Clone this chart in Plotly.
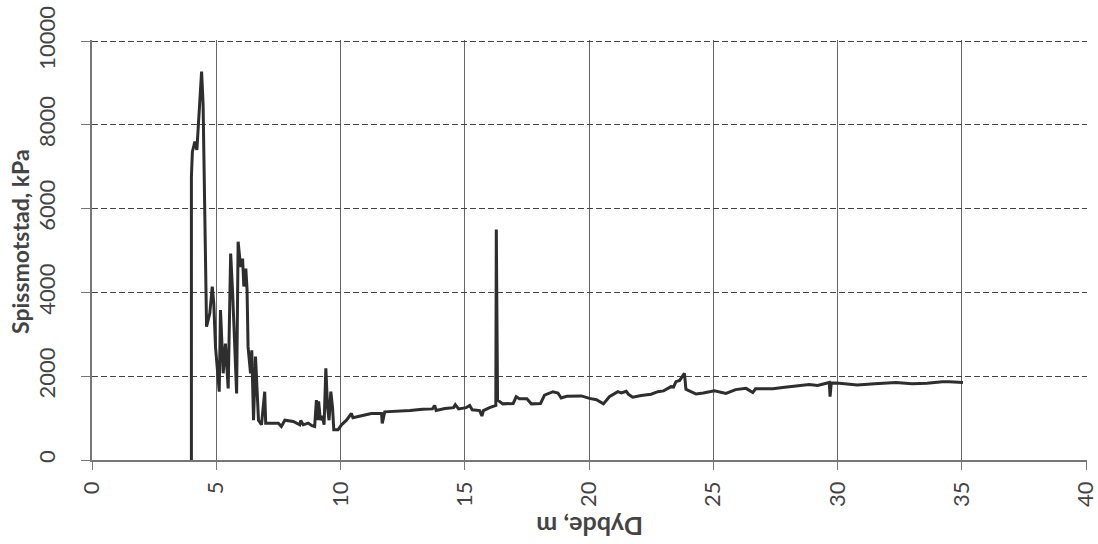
import plotly.graph_objects as go

depth = [4.00, 4.00, 4.04, 4.14, 4.22, 4.41, 4.47, 4.61, 4.74, 4.84, 4.90, 4.97, 5.12, 5.17, 5.28,
         5.37, 5.48, 5.58, 5.66, 5.72, 5.82, 5.88, 5.98, 6.06, 6.11, 6.19, 6.24, 6.28, 6.38, 6.43,
         6.50, 6.58, 6.70, 6.82, 6.95, 6.99, 7.14, 7.50, 7.62, 7.76, 8.10, 8.36, 8.40, 8.50, 8.70,
         8.85, 8.96, 9.03, 9.08, 9.12, 9.19, 9.27, 9.34, 9.41, 9.48, 9.54, 9.61, 9.68, 9.73, 9.90,
         10.04, 10.24, 10.44, 10.50, 10.80, 11.24, 11.65, 11.68, 11.78, 12.30, 12.80, 13.30, 13.70,
         13.79, 13.85, 14.20, 14.55, 14.62, 14.75, 15.06, 15.20, 15.30, 15.60, 15.69, 15.75, 16.00,
         16.20, 16.25, 16.27, 16.32, 16.53, 16.95, 17.07, 17.20, 17.50, 17.68, 18.05, 18.21, 18.55,
         18.75, 18.88, 19.10, 19.69, 20.02, 20.30, 20.58, 20.82, 21.00, 21.16, 21.30, 21.50, 21.60,
         21.76, 22.10, 22.50, 22.77, 23.00, 23.30, 23.40, 23.50, 23.65, 23.84, 23.90, 23.97, 24.31,
         24.60, 25.05, 25.51, 25.90, 26.32, 26.59, 26.70, 27.40, 27.79, 28.30, 28.86, 29.20, 29.50,
         29.67, 29.70, 29.75, 30.07, 30.80, 31.50, 32.35, 33.00, 33.60, 34.22, 34.50, 35.05]

resistance = [0, 6760, 7360, 7600, 7400, 9270, 8510, 3180, 3500, 4140, 3740, 2700, 1630, 3580, 2070,
              2780, 1710, 4930, 3980, 3020, 1590, 5210, 4610, 4810, 4140, 4570, 4060, 2700, 2070, 2620,
              950, 2470, 950, 840, 1630, 880, 880, 880, 800, 950, 920, 840, 940, 840, 880,
              820, 800, 1430, 950, 1400, 950, 1050, 840, 2190, 1250, 950, 1630, 1250, 720, 720,
              840, 950, 1110, 1010, 1050, 1110, 1110, 875, 1150, 1160, 1180, 1210, 1220,
              1300, 1180, 1230, 1250, 1320, 1220, 1250, 1300, 1200, 1180, 1050, 1180, 1250,
              1280, 1300, 5500, 1430, 1340, 1350, 1510, 1460, 1460, 1340, 1350, 1550, 1630,
              1600, 1480, 1520, 1530, 1470, 1440, 1340, 1510, 1580, 1630, 1600, 1640, 1560,
              1500, 1540, 1570, 1630, 1650, 1750, 1740, 1870, 1900, 2070, 1690, 1670, 1575,
              1600, 1650, 1590, 1680, 1710, 1610, 1700, 1700, 1730, 1770, 1800, 1780, 1830,
              1850, 1510, 1840, 1830, 1790, 1820, 1850, 1820, 1830, 1870, 1870, 1850]

x_ticks = [0, 5, 10, 15, 20, 25, 30, 35, 40]
y_ticks = [0, 2000, 4000, 6000, 8000, 10000]

fig = go.Figure()
fig.add_trace(go.Scatter(x=depth, y=resistance, mode="lines",
                         line=dict(color="#2e2e2e", width=3), showlegend=False))

font_family = "Lato, 'Open Sans', sans-serif"

fig.update_layout(
    width=1098, height=544,
    margin=dict(l=92, r=11, t=40, b=84),
    paper_bgcolor="white", plot_bgcolor="white",
    font=dict(family=font_family, color="#333333"),
    xaxis=dict(range=[0, 40.04], tickvals=x_ticks, ticktext=[str(v) for v in x_ticks],
               tickangle=-90, tickfont=dict(size=22, color="#444444"),
               ticklabeloverflow="allow", automargin=False,
               showgrid=True, gridcolor="#666666", gridwidth=1,
               showline=True, linecolor="#777777", linewidth=1.5,
               ticks="outside", ticklen=8, tickcolor="#777777",
               zeroline=False, ticklabelstandoff=3),
    yaxis=dict(range=[0, 10025], tickvals=y_ticks, ticktext=[str(v) for v in y_ticks],
               tickangle=-90, tickfont=dict(size=22, color="#444444"),
               ticklabeloverflow="allow", automargin=False,
               showgrid=True, gridcolor="#444444", gridwidth=1, griddash="6px,3px",
               showline=True, linecolor="#777777", linewidth=1.5,
               ticks="outside", ticklen=9, tickcolor="#777777",
               zeroline=False, ticklabelstandoff=17),
    annotations=[
        dict(text="<b>Dybde, m</b>", xref="paper", yref="paper", x=0.5, y=-0.16,
             xanchor="center", yanchor="middle", textangle=180, showarrow=False,
             font=dict(size=25, color="#444444", family=font_family)),
        dict(text="<b>Spissmotstad, kPa</b>", xref="paper", yref="paper", x=-0.073, y=0.52,
             xanchor="center", yanchor="middle", textangle=-90, showarrow=False,
             font=dict(size=23, color="#444444", family=font_family)),
    ],
)

fig.write_html("out.html")
